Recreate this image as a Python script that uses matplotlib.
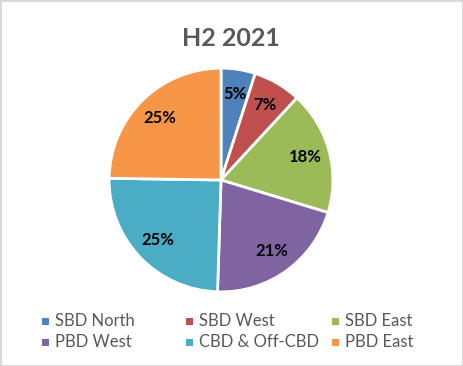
import matplotlib
matplotlib.use("Agg")
import matplotlib.pyplot as plt
from matplotlib.patches import Rectangle
import numpy as np

categories = ["SBD North", "SBD West", "SBD East", "PBD West", "CBD & Off-CBD", "PBD East"]
values = [5, 7, 18, 21, 25, 25]
colors = ["#4F81BD", "#C0504D", "#9BBB59", "#8064A2", "#4BACC6", "#F79646"]
title = "H2 2021"

plt.rcParams['font.family'] = ['Lato', 'DejaVu Sans']

W, H = 464, 366
fig = plt.figure(figsize=(W/100, H/100), dpi=100)
fig.patch.set_facecolor("white")
fig.patches.append(Rectangle((0.5/W, 0.5/H), 1-1.5/W, 1-1.5/H, transform=fig.transFigure,
                             fill=False, edgecolor="#D9D9D9", linewidth=1.5))

cx, cy, r = 221, 180, 113
ax = fig.add_axes([(cx - r)/W, (H - cy - r)/H, 2*r/W, 2*r/H])
wedges, texts = ax.pie(values, colors=colors, startangle=90, counterclock=False,
                       wedgeprops=dict(edgecolor="white", linewidth=2), radius=1)
total = sum(values)
ang = 90.0
for v in values:
    mid = ang - 360*v/total/2
    ang -= 360*v/total
    x = 0.78*np.cos(np.radians(mid))
    y = 0.78*np.sin(np.radians(mid))
    ax.text(x, y, f"{v}%", ha="center", va="center", fontsize=12, fontweight="bold", color="black")
ax.set_xlim(-1.01, 1.01)
ax.set_ylim(-1.01, 1.01)
ax.set_aspect("equal")
ax.axis("off")

fig.text(231/W, 1 - 38/H, title, ha="center", va="center", fontsize=18, fontweight="bold", color="#595959")

# legend, row-major, 3 columns
col_x = [42, 186, 332]
row_y = [321, 342]
for i, (cat, col) in enumerate(zip(categories, colors)):
    rr, cc = divmod(i, 3)
    mx, my = col_x[cc], row_y[rr]
    fig.patches.append(Rectangle((mx/W, (H - my - 3.5)/H), 7/W, 7/H, transform=fig.transFigure,
                                 facecolor=col, edgecolor="none"))
    fig.text((mx + 13)/W, 1 - my/H, cat, ha="left", va="center", fontsize=12, color="#595959")

fig.savefig("out.png", dpi=100)
